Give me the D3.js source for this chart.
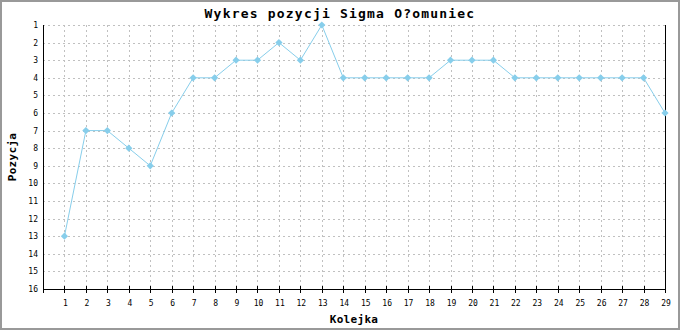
<!DOCTYPE html>
<html>
<head>
<meta charset="utf-8">
<script src="https://cdn.jsdelivr.net/npm/d3@7"></script>
<style>
  body { margin: 0; background: #fff; }
  text { font-family: "DejaVu Sans Mono", monospace; }
</style>
</head>
<body>
<div id="chart"></div>
<script>
// Chart data
const rounds = d3.range(1, 30);
const positions = [13, 7, 7, 8, 9, 6, 4, 4, 3, 3, 2, 3, 1, 4, 4, 4, 4, 4, 3, 3, 3, 4, 4, 4, 4, 4, 4, 4, 6];
const yTicks = d3.range(1, 17);
const title = "Wykres pozycji Sigma O?omuniec";
const xLabel = "Kolejka";
const yLabel = "Pozycja";

const W = 680, H = 330;
const margin = {top: 25, right: 15, bottom: 41, left: 43},
    width = W - margin.left - margin.right,
    height = H - margin.top - margin.bottom;

const root = d3.select("#chart")
    .append("svg")
    .attr("width", W)
    .attr("height", H);

// Outer frame
root.append("rect")
    .attr("x", 1).attr("y", 1)
    .attr("width", W - 2).attr("height", H - 2)
    .attr("fill", "#fff")
    .attr("stroke", "#999")
    .attr("stroke-width", 2);

const svg = root.append("g")
    .attr("transform", `translate(${margin.left},${margin.top})`);

// Scales
const x = d3.scaleLinear().domain([0, 29]).range([0, width]);
const y = d3.scaleLinear().domain([1, 16]).range([0, height]);

// Grid
svg.append("g")
    .selectAll("line")
    .data(yTicks.filter(d => d < 16))
    .join("line")
    .attr("x1", 0).attr("x2", width)
    .attr("y1", d => Math.round(y(d)) + 0.5)
    .attr("y2", d => Math.round(y(d)) + 0.5)
    .attr("stroke", "#c0c0c0")
    .attr("stroke-dasharray", "2,3");

svg.append("g")
    .selectAll("line")
    .data(rounds.filter(d => d < 29))
    .join("line")
    .attr("x1", d => Math.round(x(d)) + 0.5)
    .attr("x2", d => Math.round(x(d)) + 0.5)
    .attr("y1", 0).attr("y2", height)
    .attr("stroke", "#c0c0c0")
    .attr("stroke-dasharray", "2,3");

// Axes
svg.append("line")
    .attr("x1", 0.5).attr("x2", 0.5)
    .attr("y1", 0).attr("y2", height)
    .attr("stroke", "#000");

svg.append("line")
    .attr("x1", width + 0.5).attr("x2", width + 0.5)
    .attr("y1", 0).attr("y2", height)
    .attr("stroke", "#000");

svg.append("line")
    .attr("x1", 0).attr("x2", width + 1)
    .attr("y1", height + 0.5).attr("y2", height + 0.5)
    .attr("stroke", "#000");

// X ticks and labels
svg.append("g")
    .selectAll("line")
    .data([0].concat(rounds))
    .join("line")
    .attr("x1", d => Math.round(x(d)) + 0.5)
    .attr("x2", d => Math.round(x(d)) + 0.5)
    .attr("y1", height - 3).attr("y2", height + 4)
    .attr("stroke", "#000");

svg.append("g")
    .selectAll("text")
    .data(rounds)
    .join("text")
    .attr("x", d => x(d) + 1)
    .attr("y", height + 17)
    .attr("text-anchor", "middle")
    .attr("font-size", "8px")
    .text(d => d);

// Y labels
svg.append("g")
    .selectAll("text")
    .data(yTicks)
    .join("text")
    .attr("x", -5)
    .attr("y", d => y(d) + 3)
    .attr("text-anchor", "end")
    .attr("font-size", "8px")
    .text(d => d);

// Line
svg.append("path")
    .datum(positions)
    .attr("fill", "none")
    .attr("stroke", "#87ceeb")
    .attr("stroke-width", 1)
    .attr("d", d3.line()
        .x((d, i) => x(rounds[i]))
        .y(d => y(d)));

// Markers
svg.append("g")
    .selectAll("path")
    .data(positions)
    .join("path")
    .attr("transform", (d, i) => `translate(${x(rounds[i])},${y(d)}) rotate(45)`)
    .attr("d", d3.symbol().type(d3.symbolSquare).size(26))
    .attr("fill", "#87ceeb");

// Titles
root.append("text")
    .attr("x", 340)
    .attr("y", 18)
    .attr("text-anchor", "middle")
    .attr("font-size", "13px")
    .attr("font-weight", "bold")
    .attr("letter-spacing", "1.2px")
    .text(title);

root.append("text")
    .attr("x", 354)
    .attr("y", 323)
    .attr("text-anchor", "middle")
    .attr("font-size", "11px")
    .attr("font-weight", "bold")
    .attr("letter-spacing", "0.3px")
    .text(xLabel);

root.append("text")
    .attr("transform", `translate(16,${margin.top + height / 2}) rotate(-90)`)
    .attr("text-anchor", "middle")
    .attr("font-size", "11px")
    .attr("font-weight", "bold")
    .attr("letter-spacing", "0.3px")
    .text(yLabel);
</script>
</body>
</html>
